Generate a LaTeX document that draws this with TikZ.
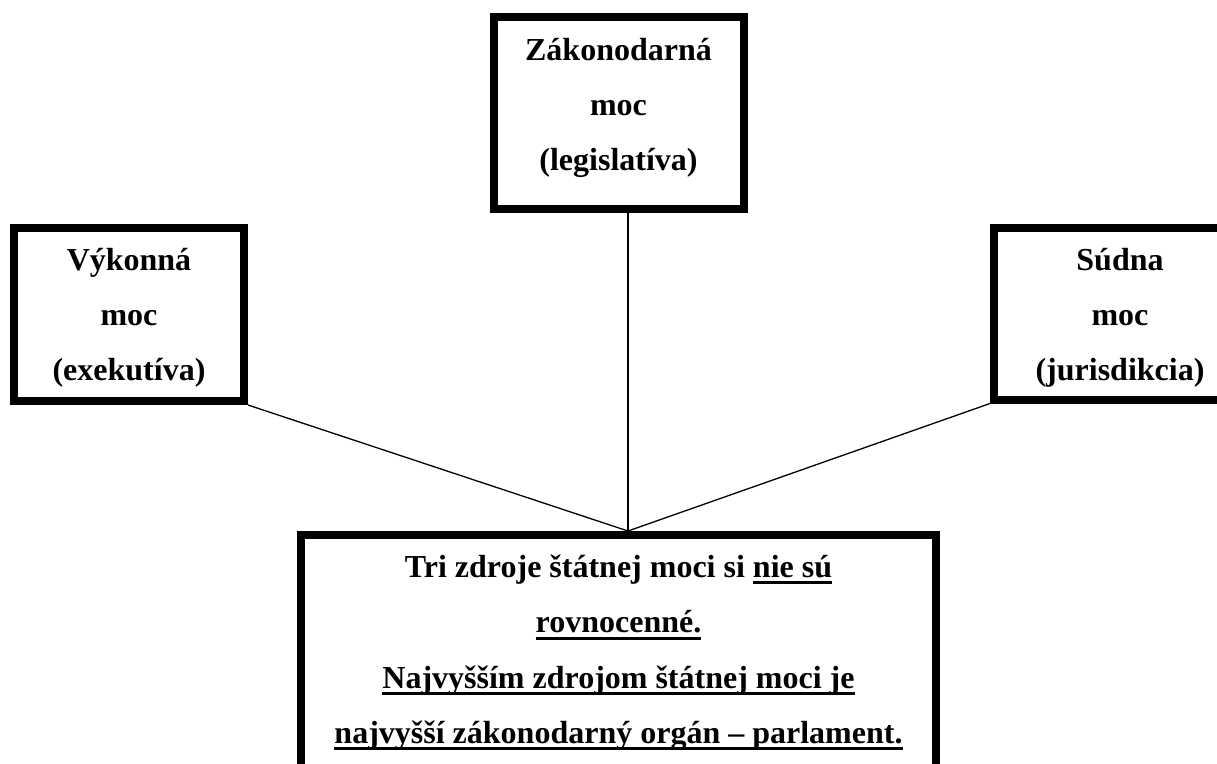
\documentclass[tikz,border=0pt]{standalone}
\usepackage{fontspec}
\setmainfont{Liberation Serif}
\newcommand{\myul}[1]{\setbox0\hbox{#1}\rlap{\rule[-7pt]{\wd0}{2.6pt}}\box0}
\begin{document}
\begin{tikzpicture}[x=1pt,y=-1pt,
  powbox/.style={draw=black, line width=8pt, fill=none, inner sep=0pt, rectangle},
  txt/.style={anchor=base, inner sep=0pt, font=\fontsize{32}{38}\selectfont\bfseries},
  conn/.style={draw=black, line width=1.3pt}]
\useasboundingbox[fill=white] (0,0) rectangle (1217,763);
% boxes
\node[powbox, minimum width=250pt, minimum height=191.5pt] (top) at (618.5,112.75) {};
\node[powbox, minimum width=230pt, minimum height=173.5pt] (left) at (129,314.25) {};
\node[powbox, minimum width=250pt, minimum height=172pt] (right) at (1119,313.5) {};
\node[powbox, minimum width=635pt, minimum height=235pt] (bot) at (618.5,652.5) {};
% texts
\node[txt] (t1) at (618.5,60) {Zákonodarná};
\node[txt] (t2) at (618.5,115) {moc};
\node[txt] (t3) at (618.5,170) {(legislatíva)};
\node[txt] (l1) at (129,270) {Výkonná};
\node[txt] (l2) at (129,325) {moc};
\node[txt] (l3) at (129,380) {(exekutíva)};
\node[txt] (r1) at (1120,270) {Súdna};
\node[txt] (r2) at (1120,325) {moc};
\node[txt] (r3) at (1120,380) {(jurisdikcia)};
\node[txt] (b1) at (618.5,577) {Tri zdroje štátnej moci si \myul{nie sú}};
\node[txt] (b2) at (618.5,632.5) {\myul{rovnocenné.}};
\node[txt] (b3) at (618.5,688) {\myul{Najvyšším zdrojom štátnej moci je}};
\node[txt] (b4) at (618.5,743) {\myul{najvyšší zákonodarný orgán – parlament.}};
% connectors
\coordinate (j) at (628,531);
\draw[conn] (top.south -| j) -- (j);
\draw[conn] (left.south east) -- (j);
\draw[conn] (right.south west) -- (j);
\end{tikzpicture}
\end{document}
